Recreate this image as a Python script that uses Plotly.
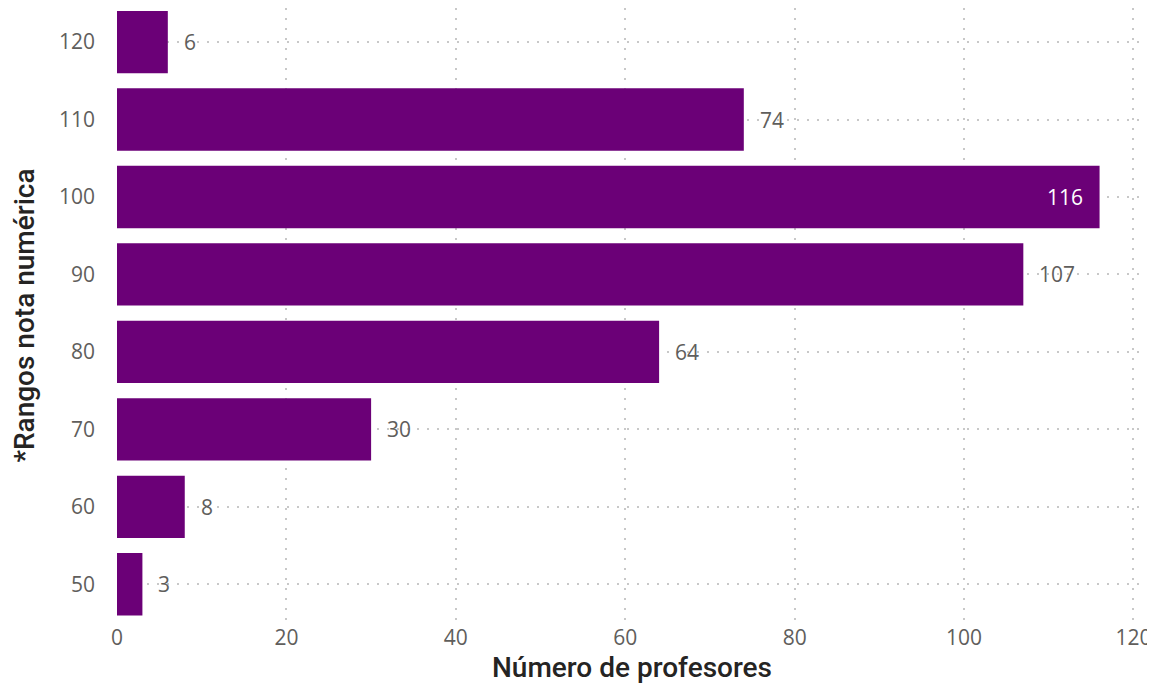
import plotly.graph_objects as go

categories = ["50", "60", "70", "80", "90", "100", "110", "120"]
values = [3, 8, 30, 64, 107, 116, 74, 6]
inside_labels = ["116"]

bar_color = "#6B0077"
label_color = "#605E5C"
title_color = "#252423"
grid_color = "#C8C8C8"
tick_font = "Open Sans"
title_font = "Roboto"

fig = go.Figure(go.Bar(
    x=values, y=categories, orientation="h",
    marker=dict(color=bar_color, line=dict(width=0)),
    hoverinfo="skip",
))

for i, v in enumerate(values):
    inside = str(v) in inside_labels
    fig.add_annotation(
        x=v, y=i, xref="x", yref="y",
        text=str(v), showarrow=False,
        xanchor="right" if inside else "left",
        xshift=-15 if inside else 14,
        font=dict(family=tick_font, size=21, color="#FFFFFF" if inside else label_color),
    )

fig.update_layout(
    width=1147, height=676,
    margin=dict(l=109, r=8, t=0, b=61),
    plot_bgcolor="white", paper_bgcolor="white",
    bargap=0.195,
    showlegend=False,
)
fig.update_xaxes(
    range=[0, 121.6], tickvals=[0, 20, 40, 60, 80, 100, 120],
    showgrid=True, gridcolor=grid_color, griddash="2px,8px", gridwidth=1.5,
    zeroline=False, showline=False, automargin=False,
    ticklabeloverflow="allow",
    tickfont=dict(family=tick_font, size=21, color=label_color),
    title=dict(text="Número de profesores",
               font=dict(family=title_font, size=28, color=title_color, weight=500),
               standoff=8),
    ticks="", ticklabelstandoff=0,
)
fig.update_yaxes(
    type="category", categoryorder="array", categoryarray=categories,
    range=[-0.5, 7.44],
    showgrid=True, gridcolor=grid_color, griddash="2px,8px", gridwidth=1.5,
    zeroline=False, showline=False, automargin=False,
    tickfont=dict(family=tick_font, size=21, color=label_color),
    title=dict(text="*Rangos nota numérica",
               font=dict(family=title_font, size=28, color=title_color, weight=500),
               standoff=16),
    ticks="", ticklabelstandoff=21,
)

fig.write_html("out.html")
